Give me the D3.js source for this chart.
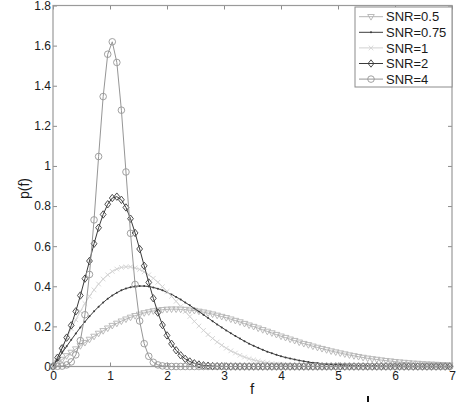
<!DOCTYPE html>
<html>
<head>
<meta charset="utf-8">
<script src="https://cdn.jsdelivr.net/npm/d3@7/dist/d3.min.js"></script>
<style>
body { margin: 0; background: #fff; }
text { font-family: "Liberation Sans", Arial, sans-serif; }
</style>
</head>
<body>
<div id="chart-area"></div>
<script>
// sample positions f (step 0.08)
var fValues = [
    0.00, 0.08, 0.16, 0.24, 0.32, 0.40, 0.48, 0.56, 0.64, 0.72,
    0.80, 0.88, 0.96, 1.04, 1.12, 1.20, 1.28, 1.36, 1.44, 1.52,
    1.60, 1.68, 1.76, 1.84, 1.92, 2.00, 2.08, 2.16, 2.24, 2.32,
    2.40, 2.48, 2.56, 2.64, 2.72, 2.80, 2.88, 2.96, 3.04, 3.12,
    3.20, 3.28, 3.36, 3.44, 3.52, 3.60, 3.68, 3.76, 3.84, 3.92,
    4.00, 4.08, 4.16, 4.24, 4.32, 4.40, 4.48, 4.56, 4.64, 4.72,
    4.80, 4.88, 4.96, 5.04, 5.12, 5.20, 5.28, 5.36, 5.44, 5.52,
    5.60, 5.68, 5.76, 5.84, 5.92, 6.00, 6.08, 6.16, 6.24, 6.32,
    6.40, 6.48, 6.56, 6.64, 6.72, 6.80, 6.88, 6.96
];

var snr05 = [
    0, 0.018, 0.035, 0.053, 0.070, 0.087, 0.103, 0.119, 0.135, 0.150,
    0.165, 0.178, 0.191, 0.204, 0.215, 0.226, 0.236, 0.245, 0.253, 0.260,
    0.267, 0.272, 0.277, 0.280, 0.283, 0.285, 0.286, 0.286, 0.285, 0.284,
    0.281, 0.279, 0.275, 0.271, 0.266, 0.261, 0.255, 0.249, 0.243, 0.236,
    0.229, 0.222, 0.214, 0.206, 0.199, 0.191, 0.183, 0.175, 0.167, 0.159,
    0.151, 0.144, 0.136, 0.129, 0.121, 0.114, 0.108, 0.101, 0.095, 0.089,
    0.083, 0.077, 0.072, 0.067, 0.062, 0.057, 0.053, 0.049, 0.045, 0.041,
    0.038, 0.035, 0.032, 0.029, 0.027, 0.024, 0.022, 0.020, 0.018, 0.016,
    0.015, 0.013, 0.012, 0.011, 0.010, 0.009, 0.008, 0.007
];

var snr075 = [
    0, 0.034, 0.068, 0.101, 0.133, 0.164, 0.195, 0.223, 0.250, 0.275,
    0.298, 0.319, 0.338, 0.354, 0.368, 0.380, 0.389, 0.395, 0.400, 0.401,
    0.401, 0.399, 0.394, 0.388, 0.380, 0.370, 0.359, 0.347, 0.334, 0.319,
    0.305, 0.289, 0.274, 0.258, 0.242, 0.226, 0.210, 0.195, 0.180, 0.166,
    0.152, 0.139, 0.126, 0.114, 0.103, 0.093, 0.083, 0.074, 0.066, 0.058,
    0.051, 0.045, 0.040, 0.035, 0.030, 0.026, 0.022, 0.019, 0.017, 0.014,
    0.012, 0.010, 0.009, 0.007, 0.006, 0.005, 0.004, 0.003, 0.003, 0.002,
    0.002, 0.002, 0.001, 0.001, 0.001, 0.001, 0.001, 0, 0, 0,
    0, 0, 0, 0, 0, 0, 0, 0
];

var snr1 = [
    0, 0.048, 0.096, 0.143, 0.189, 0.233, 0.275, 0.314, 0.350, 0.382,
    0.411, 0.436, 0.457, 0.474, 0.486, 0.494, 0.497, 0.497, 0.492, 0.484,
    0.472, 0.457, 0.440, 0.420, 0.398, 0.374, 0.350, 0.325, 0.299, 0.274,
    0.249, 0.225, 0.202, 0.180, 0.159, 0.140, 0.122, 0.106, 0.091, 0.078,
    0.067, 0.056, 0.047, 0.039, 0.033, 0.027, 0.022, 0.018, 0.014, 0.012,
    0.009, 0.007, 0.006, 0.004, 0.003, 0.003, 0.002, 0.002, 0.001, 0.001,
    0.001, 0, 0, 0, 0, 0, 0, 0, 0, 0,
    0, 0, 0, 0, 0, 0, 0, 0, 0, 0,
    0, 0, 0, 0, 0, 0, 0, 0
];

var snr2 = [
    0, 0.044, 0.091, 0.144, 0.205, 0.275, 0.354, 0.438, 0.526, 0.612,
    0.692, 0.758, 0.809, 0.840, 0.847, 0.831, 0.793, 0.737, 0.666, 0.586,
    0.502, 0.419, 0.340, 0.269, 0.207, 0.155, 0.113, 0.081, 0.056, 0.038,
    0.025, 0.016, 0.010, 0.006, 0.004, 0.002, 0.001, 0.001, 0, 0,
    0, 0, 0, 0, 0, 0, 0, 0, 0, 0,
    0, 0, 0, 0, 0, 0, 0, 0, 0, 0,
    0, 0, 0, 0, 0, 0, 0, 0, 0, 0,
    0, 0, 0, 0, 0, 0, 0, 0, 0, 0,
    0, 0, 0, 0, 0, 0, 0, 0
];

var snr4 = [
    0, 0.001, 0.002, 0.008, 0.023, 0.058, 0.129, 0.258, 0.459, 0.731,
    1.047, 1.346, 1.557, 1.619, 1.516, 1.278, 0.970, 0.664, 0.409, 0.227,
    0.114, 0.051, 0.021, 0.008, 0.003, 0.001, 0, 0, 0, 0,
    0, 0, 0, 0, 0, 0, 0, 0, 0, 0,
    0, 0, 0, 0, 0, 0, 0, 0, 0, 0,
    0, 0, 0, 0, 0, 0, 0, 0, 0, 0,
    0, 0, 0, 0, 0, 0, 0, 0, 0, 0,
    0, 0, 0, 0, 0, 0, 0, 0, 0, 0,
    0, 0, 0, 0, 0, 0, 0, 0
];

var seriesNames = ["SNR=0.5", "SNR=0.75", "SNR=1", "SNR=2", "SNR=4"];
var xTicks = [0, 1, 2, 3, 4, 5, 6, 7];
var yTicks = [0, 0.2, 0.4, 0.6, 0.8, 1, 1.2, 1.4, 1.6, 1.8];

// look of each series (same order as seriesNames)
var seriesStyle = [
    { color: "#b4b4b4", marker: "triangle" },
    { color: "#3c3c3c", marker: "dot" },
    { color: "#d2d2d2", marker: "cross" },
    { color: "#3a3a3a", marker: "diamond" },
    { color: "#969696", marker: "circle" }
];

var margin = { top: 5.5, bottom: 35.5, left: 53, right: 7 };
var width = 459 - margin.left - margin.right;
var height = 402 - margin.top - margin.bottom;

var svg = d3.select("#chart-area").append("svg")
    .attr("width", 459)
    .attr("height", 402);

var g = svg.append("g")
    .attr("transform", "translate(" + margin.left + " " + margin.top + ")");

var x_scale = d3.scaleLinear().domain([0, 7]).range([0, width]);
var y_scale = d3.scaleLinear().domain([0, 1.8]).range([height, 0]);

var fmt = d3.format("~g");

// axes (ticks pointing inward, matlab style)
function styleAxis(sel, labels) {
    sel.select(".domain").remove();
    sel.selectAll(".tick line").attr("stroke", "#8c8c8c");
    sel.selectAll(".tick text")
        .attr("fill", "#1a1a1a")
        .attr("font-size", "12px")
        .attr("font-family", "'Liberation Sans', Arial, sans-serif");
    if (!labels) sel.selectAll(".tick text").remove();
}

g.append("g")
    .attr("transform", "translate(0 " + height + ")")
    .call(d3.axisBottom(x_scale).tickValues(xTicks).tickFormat(fmt)
        .tickSizeInner(-4).tickSizeOuter(0).tickPadding(5))
    .call(styleAxis, true);

g.append("g")
    .call(d3.axisTop(x_scale).tickValues(xTicks)
        .tickSizeInner(-4).tickSizeOuter(0))
    .call(styleAxis, false);

g.append("g")
    .call(d3.axisLeft(y_scale).tickValues(yTicks).tickFormat(fmt)
        .tickSizeInner(-4).tickSizeOuter(0).tickPadding(2))
    .call(styleAxis, true);

g.append("g")
    .attr("transform", "translate(" + width + " 0)")
    .call(d3.axisRight(y_scale).tickValues(yTicks)
        .tickSizeInner(-4).tickSizeOuter(0))
    .call(styleAxis, false);

// box
g.append("rect")
    .attr("x", 0).attr("y", 0)
    .attr("width", width).attr("height", height)
    .attr("fill", "none")
    .attr("stroke", "#9a9a9a")
    .attr("stroke-width", 1.2);

// marker shapes
function markerPath(type) {
    if (type == "circle") return "M3.3,0A3.3,3.3 0 1,1 -3.3,0A3.3,3.3 0 1,1 3.3,0Z";
    if (type == "diamond") return "M0,-3.7L2.9,0L0,3.7L-2.9,0Z";
    if (type == "triangle") return "M-3.3,-2.2L3.3,-2.2L0,3.4Z";
    if (type == "cross") return "M-2.3,-2.3L2.3,2.3M-2.3,2.3L2.3,-2.3";
    return "M1,0A1,1 0 1,1 -1,0A1,1 0 1,1 1,0Z";
}

var allSeries = [snr05, snr075, snr1, snr2, snr4];

var line = d3.line()
    .x(function(d) { return x_scale(d.f); })
    .y(function(d) { return y_scale(d.p); });

allSeries.forEach(function(vals, i) {
    var st = seriesStyle[i];
    var pts = fValues.map(function(f, j) { return { f: f, p: vals[j] }; });

    var sg = g.append("g").attr("class", "series");

    sg.append("path")
        .datum(pts)
        .attr("fill", "none")
        .attr("stroke", st.color)
        .attr("stroke-width", 1)
        .attr("d", line);

    sg.selectAll(".mk")
        .data(pts).enter()
        .append("path")
            .attr("class", "mk")
            .attr("transform", function(d) {
                return "translate(" + x_scale(d.f) + " " + y_scale(d.p) + ")";
            })
            .attr("d", markerPath(st.marker))
            .attr("fill", st.marker == "dot" ? st.color : "none")
            .attr("stroke", st.color)
            .attr("stroke-width", st.marker == "dot" ? 0 : 0.9);
});

// axis labels
svg.append("text")
    .attr("transform", "translate(29 188.5) rotate(-90)")
    .attr("text-anchor", "middle")
    .attr("font-size", "14px")
    .attr("fill", "#1a1a1a")
    .text("p(f)");

svg.append("text")
    .attr("x", 252)
    .attr("y", 394)
    .attr("text-anchor", "middle")
    .attr("font-size", "15px")
    .attr("fill", "#1a1a1a")
    .text("f");

// legend
var legend = svg.append("g").attr("transform", "translate(355 7)");
legend.append("rect")
    .attr("width", 97).attr("height", 80)
    .attr("fill", "#fff")
    .attr("stroke", "#8c8c8c")
    .attr("stroke-width", 1);

seriesNames.forEach(function(name, i) {
    var st = seriesStyle[i];
    var yy = 9.7 + i * 15.6;
    var row = legend.append("g").attr("transform", "translate(0 " + yy + ")");
    row.append("line")
        .attr("x1", 4).attr("x2", 28)
        .attr("stroke", st.color).attr("stroke-width", 1);
    row.append("path")
        .attr("transform", "translate(16 0)")
        .attr("d", markerPath(st.marker))
        .attr("fill", st.marker == "dot" ? st.color : "none")
        .attr("stroke", st.color)
        .attr("stroke-width", st.marker == "dot" ? 0 : 0.9);
    row.append("text")
        .attr("x", 31)
        .attr("y", 4.6)
        .attr("font-size", "13px")
        .attr("fill", "#1a1a1a")
        .text(name);
});

// small dark mark below the axis, as in the scan
svg.append("line")
    .attr("x1", 368).attr("x2", 368)
    .attr("y1", 396).attr("y2", 402)
    .attr("stroke", "#111")
    .attr("stroke-width", 2);
</script>
</body>
</html>
